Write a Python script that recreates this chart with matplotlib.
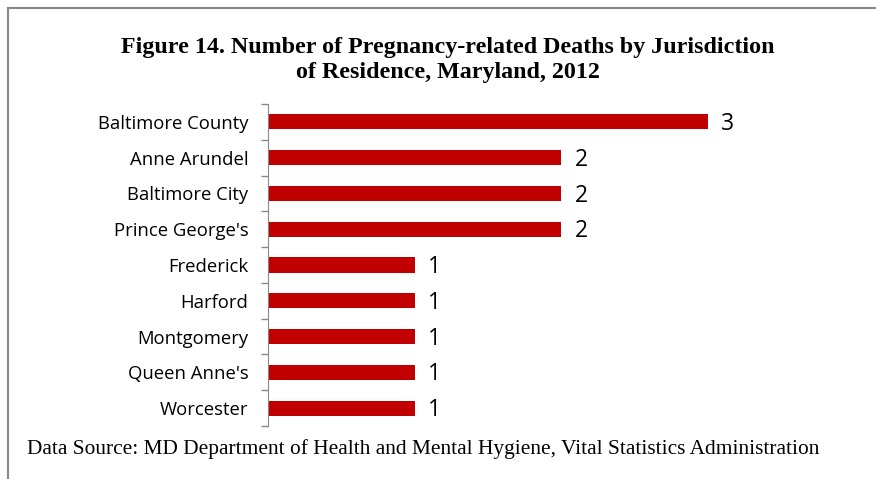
import matplotlib.pyplot as plt
from matplotlib.lines import Line2D
import numpy as np

jurisdictions = ["Baltimore County", "Anne Arundel", "Baltimore City", "Prince George's",
                 "Frederick", "Harford", "Montgomery", "Queen Anne's", "Worcester"]
deaths = [3, 2, 2, 2, 1, 1, 1, 1, 1]

title = "Figure 14. Number of Pregnancy-related Deaths by Jurisdiction\nof Residence, Maryland, 2012"
source = "Data Source: MD Department of Health and Mental Hygiene, Vital Statistics Administration"

W, H = 876, 479
fig = plt.figure(figsize=(W / 100, H / 100), dpi=100)

# axes placed in pixel coords of the reference
left, right, top, bottom = 268, 795, 104, 426
ax = fig.add_axes([left / W, 1 - bottom / H, (right - left) / W, (bottom - top) / H])

y = np.arange(len(jurisdictions))
ax.barh(y, deaths, height=0.42, color="#c00000")
ax.set_ylim(len(jurisdictions) - 0.5, -0.5)
ax.set_xlim(0, (right - left) / 146.5)

for yi, v in zip(y, deaths):
    ax.text(v + 0.095, yi + 0.06, str(v), va="center", ha="left", fontsize=16.5,
            family="Open Sans", color="black")

ax.set_yticks(y)
ax.set_yticklabels(jurisdictions, family="Open Sans", fontsize=13.3)
ax.tick_params(axis="y", which="major", length=0, pad=14)
ax.set_yticks(np.arange(-0.5, len(jurisdictions), 1), minor=True)
ax.tick_params(axis="y", which="minor", length=5, color="#888888", width=1)
ax.set_xticks([])
for s in ["top", "right", "bottom"]:
    ax.spines[s].set_visible(False)
ax.spines["left"].set_color("#888888")

fig.text(448 / W, 1 - 60 / H, title, ha="center", va="center", fontsize=17.3,
         family="Liberation Serif", fontweight="bold", linespacing=1.3)
fig.text(27 / W, 1 - 449 / H, source, ha="left", va="center", fontsize=15.4,
         family="Liberation Serif")

# frame lines (top and left)
fig.add_artist(Line2D([8 / W, 1], [1 - 8 / H, 1 - 8 / H], color="#888888", lw=1.5,
                      transform=fig.transFigure))
fig.add_artist(Line2D([8 / W, 8 / W], [0, 1 - 8 / H], color="#888888", lw=1.5,
                      transform=fig.transFigure))

fig.savefig("out.png", dpi=100)
